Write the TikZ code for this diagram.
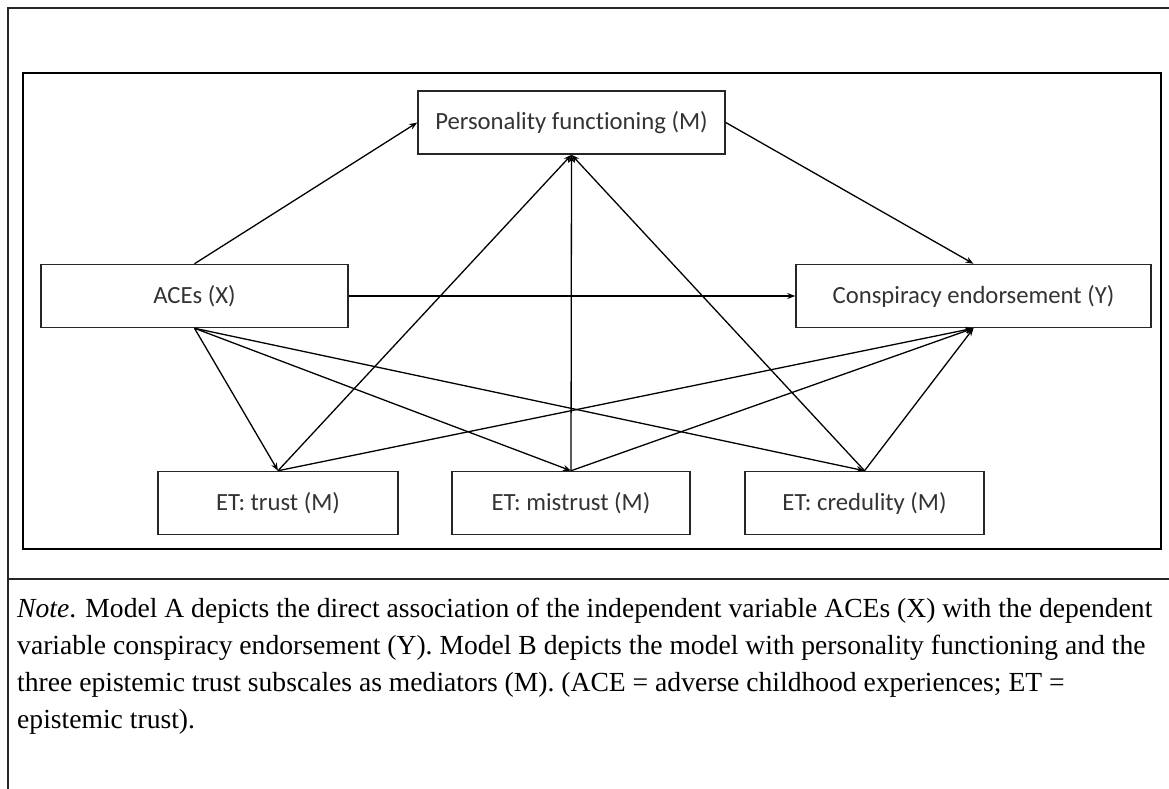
\documentclass[tikz,border=0pt]{standalone}
\usepackage{fontspec}
\setmainfont{Liberation Serif}
\newfontfamily\diagfont[Ligatures=NoCommon]{Carlito}
\usetikzlibrary{arrows.meta}
\begin{document}
\begin{tikzpicture}[x=1pt,y=-1pt,
  box/.style={draw=black!85,line width=1.5pt,minimum height=63pt,inner sep=0pt,
    font=\diagfont\fontsize{24.7}{27}\selectfont,text=black!80},
  conn/.style={line width=1.3pt,-{Stealth[length=8pt,width=6pt]}},
  notetext/.style={anchor=base west,inner sep=0pt,font=\fontsize{27.6}{30}\selectfont}
  ]
\useasboundingbox (0,0) rectangle (1169,789);
% outer table lines
\draw[line width=1.5pt,black!85] (8,789) -- (8,8) -- (1169,8);
\draw[line width=1.5pt,black!85] (8,579) -- (1169,579);
% inner frame
\draw[line width=2.4pt] (23,73) rectangle (1161,549);
% nodes
\node[box,minimum width=307pt] (pf) at (571.5,122.5) {Personality functioning (M)};
\node[box,minimum width=307pt] (ace) at (194.5,296) {ACEs (X)};
\node[box,minimum width=355pt] (ce) at (973.5,296) {Conspiracy endorsement (Y)};
\node[box,minimum width=240pt] (tr) at (278,503) {ET: trust (M)};
\node[box,minimum width=238pt] (mi) at (571,503) {ET: mistrust (M)};
\node[box,minimum width=239pt] (cr) at (864.5,503) {ET: credulity (M)};
% connectors
\draw[conn] (ace.north) -- (pf.west);
\draw[conn] (pf.east) -- (ce.north);
\draw[conn] (ace.east) -- (ce.west);
\draw[conn] (ace.south) -- (tr.north);
\draw[conn] (ace.south) -- (mi.north);
\draw[conn] (ace.south) -- (cr.north);
\draw[conn] (tr.north) -- (pf.south);
\draw[conn] (mi.north) -- (pf.south);
\draw[conn] (cr.north) -- (pf.south);
\draw[conn] (tr.north) -- (ce.south);
\draw[conn] (mi.north) -- (ce.south);
\draw[conn] (cr.north) -- (ce.south);
% note
\node[notetext] (n1) at (17,617) {\textit{Note}. Model A depicts the direct association of the independent variable ACEs (X) with the dependent};
\node[notetext] (n2) at (17,654) {variable conspiracy endorsement (Y). Model B depicts the model with personality functioning and the};
\node[notetext] (n3) at (17,691) {three epistemic trust subscales as mediators (M). (ACE = adverse childhood experiences; ET =};
\node[notetext] (n4) at (17,728) {epistemic trust).};
\end{tikzpicture}
\end{document}
